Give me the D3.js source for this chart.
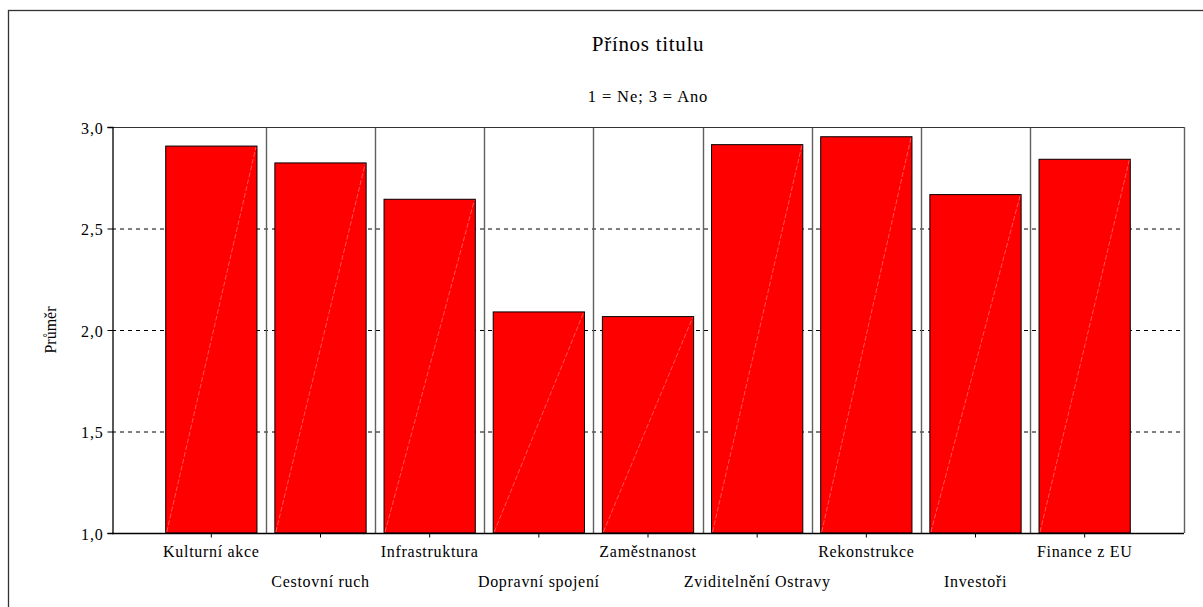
<!DOCTYPE html>
<html><head><meta charset="utf-8">
<script src="https://cdn.jsdelivr.net/npm/d3@7"></script>
<style>
html,body{margin:0;padding:0;background:#fff;overflow:hidden}
svg{display:block;font-family:"Liberation Serif","Times New Roman",serif}
</style></head>
<body>
<svg id="c" width="1203" height="607"></svg>
<script>
const categories = ["Kulturní akce","Cestovní ruch","Infrastruktura","Dopravní spojení","Zaměstnanost","Zviditelnění Ostravy","Rekonstrukce","Investoři","Finance z EU"];
const values = [2.906, 2.823, 2.644, 2.089, 2.066, 2.913, 2.952, 2.667, 2.841];
const yTicks = [1.0, 1.5, 2.0, 2.5, 3.0];
const gridTicks = [1.5, 2.0, 2.5, 3.0];
const title = "Přínos titulu";
const subtitle = "1 = Ne; 3 = Ano";
const yTitle = "Průměr";

const svg = d3.select("#c");
const L = 112, R = 1184, T = 127, B = 533;

// outer frame
svg.append("rect").attr("x",8.5).attr("y",10.5).attr("width",1400).attr("height",800)
  .attr("fill","none").attr("stroke","#333").attr("stroke-width",1.3);

const x = d3.scaleBand().domain(categories).range([L, R]).paddingInner(0).paddingOuter(0.41);
const y = d3.scaleLinear().domain([1, 3]).range([B, T]);
const step = x.step();
const barFrac = 0.836;

// gridlines
svg.append("g").selectAll("line").data(gridTicks).join("line")
  .attr("x1", L).attr("x2", R).attr("y1", d => y(d)+0.5).attr("y2", d => y(d)+0.5)
  .attr("stroke","#000").attr("stroke-width",1).attr("stroke-dasharray","4,4");

// separators
svg.append("g").selectAll("line").data(categories.slice(1)).join("line")
  .attr("x1", d => Math.round(x(d))+0.5).attr("x2", d => Math.round(x(d))+0.5)
  .attr("y1", T).attr("y2", B).attr("stroke","#606060").attr("stroke-width",1.4);

// top and right borders
svg.append("line").attr("x1",L).attr("x2",R).attr("y1",T+0.5).attr("y2",T+0.5).attr("stroke","#333").attr("stroke-width",1.2);
svg.append("line").attr("x1",R+0.5).attr("x2",R+0.5).attr("y1",T).attr("y2",B).attr("stroke","#606060").attr("stroke-width",1.4);

// bars
const bars = svg.append("g").selectAll("g").data(categories).join("g");
const bx = (d) => x(d) + step*(1-barFrac)/2;
const bw = step*barFrac;
bars.append("rect")
  .attr("x", d => bx(d)).attr("y", (d,i) => y(values[i]))
  .attr("width", bw).attr("height", (d,i) => y(1) - y(values[i]))
  .attr("fill","#ff0000").attr("stroke","#000").attr("stroke-width",1);
bars.append("line")
  .attr("x1", d => bx(d)+1).attr("y1", B-1)
  .attr("x2", d => bx(d)+bw-1).attr("y2", (d,i) => y(values[i])+1)
  .attr("stroke","#ff8a8a").attr("stroke-width",0.6).attr("stroke-dasharray","5,2");

// y axis
const yAxis = d3.axisLeft(y).tickValues(yTicks).tickFormat(d => d.toFixed(1).replace(".", ",")).tickSize(5).tickPadding(4);
const gy = svg.append("g").attr("transform",`translate(${L+0.5},0)`).call(yAxis);
gy.select(".domain").attr("stroke","#000").attr("stroke-width",1.3);
gy.selectAll(".tick line").attr("stroke","#000");
gy.selectAll(".tick text").attr("font-size",16).attr("fill","#000").attr("dy","6").attr("letter-spacing","0.8px")
  .attr("font-family","Liberation Serif, serif");

// x axis
const xAxis = d3.axisBottom(x).tickSize(4).tickPadding(0).tickSizeOuter(0);
const gx = svg.append("g").attr("transform",`translate(0,${B+0.5})`).call(xAxis);
gx.select(".domain").attr("stroke","#000").attr("stroke-width",1.3).attr("d",`M${L},0H${R}`);
gx.selectAll(".tick line").attr("stroke","#000");
gx.selectAll(".tick text").attr("font-size",16).attr("fill","#000")
  .attr("font-family","Liberation Serif, serif").attr("letter-spacing","0.7px")
  .attr("dy",null).attr("y",(d,i) => i % 2 === 0 ? 23.5 : 53.5);

// titles
svg.append("text").attr("x",(L+R)/2).attr("y",51).attr("text-anchor","middle")
  .attr("font-size",21).attr("letter-spacing","0.7px").text(title);
svg.append("text").attr("x",(L+R)/2).attr("y",102).attr("text-anchor","middle")
  .attr("font-size",16.5).attr("letter-spacing","0.9px").text(subtitle);
svg.append("text").attr("transform",`translate(55.5,${(T+B)/2}) rotate(-90)`).attr("text-anchor","middle")
  .attr("font-size",16).text(yTitle);
</script>
</body></html>
